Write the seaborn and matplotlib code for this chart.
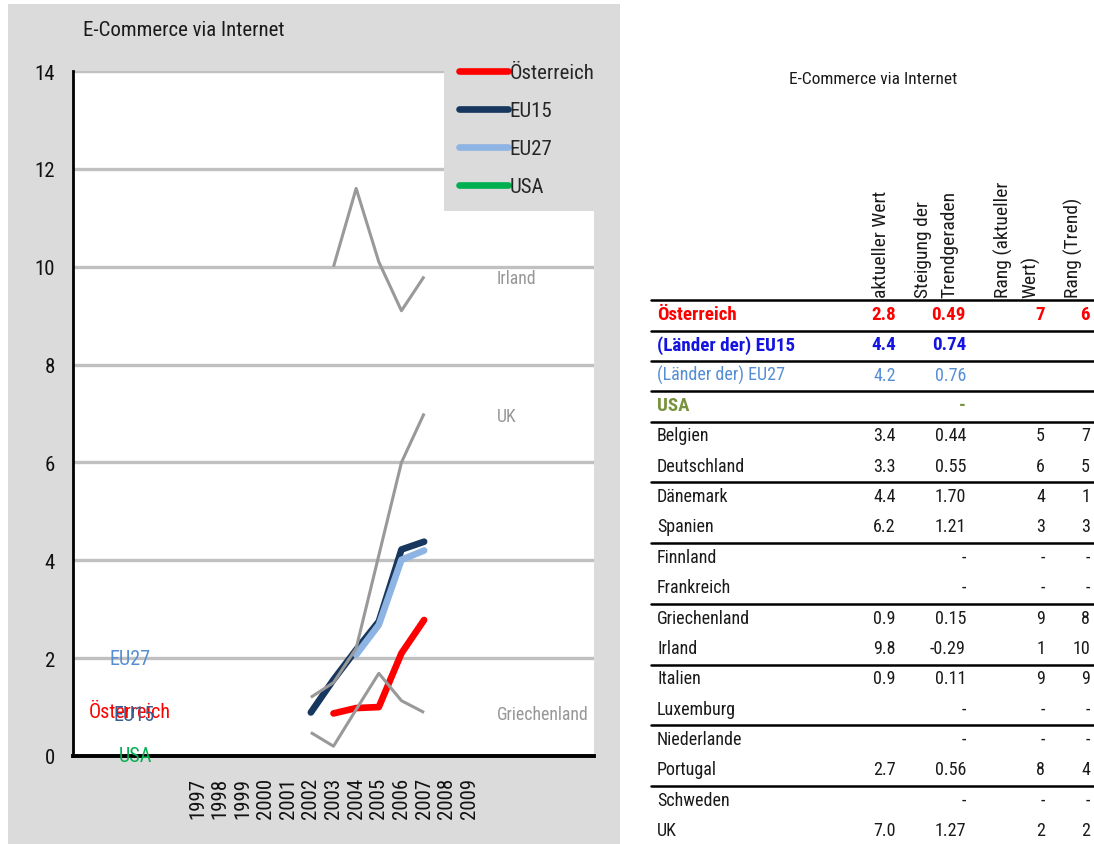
import numpy as np
import pandas as pd
import matplotlib
matplotlib.use("Agg")
import matplotlib.pyplot as plt
import seaborn as sns
from matplotlib.lines import Line2D
from matplotlib.patches import Rectangle

# ---------------- data ----------------
# Excel-style category axis: empty slots around the years
categories = [""] * 5 + [str(y) for y in range(1997, 2010)] + [""] * 5

years = [2002, 2003, 2004, 2005, 2006, 2007]
oesterreich = [np.nan, 0.87, 0.98, 1.00, 2.10, 2.78]
eu15 = [0.89, 1.56, 2.17, 2.75, 4.22, 4.38]
eu27 = [np.nan, np.nan, 2.07, 2.68, 4.01, 4.20]
usa = [np.nan] * 6
irland = [np.nan, 10.0, 11.6, 10.1, 9.1, 9.8]
uk = [1.2, 1.5, 2.2, 4.1, 6.0, 7.0]
griechenland = [0.48, 0.20, 0.95, 1.69, 1.13, 0.89]

main_series = ["Österreich", "EU15", "EU27", "USA"]
main_colors = ["#FF0000", "#17375E", "#8EB4E3", "#00B050"]
label_colors = ["#FF0000", "#3A5F8F", "#558ED5", "#00B050"]
label_values = [0.9, 0.85, 2.0, 0.0]   # series-name labels on the left

country_series = ["Irland", "UK", "Griechenland"]
country_label_values = [9.8, 7.0, 0.9]

# table on the right
tab_names = ["Österreich", "(Länder der) EU15", "(Länder der) EU27", "USA",
             "Belgien", "Deutschland", "Dänemark", "Spanien", "Finnland",
             "Frankreich", "Griechenland", "Irland", "Italien", "Luxemburg",
             "Niederlande", "Portugal", "Schweden", "UK"]
tab_wert = ["2.8", "4.4", "4.2", "", "3.4", "3.3", "4.4", "6.2", "", "",
            "0.9", "9.8", "0.9", "", "", "2.7", "", "7.0"]
tab_steigung = ["0.49", "0.74", "0.76", "-", "0.44", "0.55", "1.70", "1.21",
                "-", "-", "0.15", "-0.29", "0.11", "-", "-", "0.56", "-", "1.27"]
tab_rang_wert = ["7", "", "", "", "5", "6", "4", "3", "-", "-", "9", "1", "9",
                 "-", "-", "8", "-", "2"]
tab_rang_trend = ["6", "", "", "", "7", "5", "1", "3", "-", "-", "8", "10",
                  "9", "-", "-", "4", "-", "2"]
tab_headers = ["aktueller Wert", "Steigung der\nTrendgeraden",
               "Rang (aktueller\nWert)", "Rang (Trend)"]
tab_colors = ["#FF0000", "#1414E0", "#558ED5", "#77933C"] + ["#1A1A1A"] * 14
tab_bold = [True, True, False, True] + [False] * 14
tab_lines_after = [-1, 0, 1, 2, 3, 5, 7, 9, 11, 13, 15]

# ---------------- style ----------------
sns.set_theme(style="white")
plt.rcParams["font.family"] = ["Roboto Condensed", "DejaVu Sans"]

W, H = 1094, 845
fig = plt.figure(figsize=(W / 100, H / 100), dpi=100, facecolor="white")


def fx(px):
    return px / W


def fy(py):
    return 1 - py / H


# grey panel behind the chart
fig.add_artist(Rectangle((fx(8), 0), fx(612), 1 - 5 / H, transform=fig.transFigure,
                         facecolor="#DBDBDB", edgecolor="none", zorder=0))

ax = fig.add_axes([fx(73), fy(757), fx(594 - 73), (757 - 72) / H])
ax.set_facecolor("white")

pos = [categories.index(str(y)) for y in years]
df_main = pd.DataFrame({"pos": pos * 4,
                        "value": oesterreich + eu15 + eu27 + usa,
                        "series": np.repeat(main_series, len(years))})
df_cty = pd.DataFrame({"pos": pos * 3,
                       "value": irland + uk + griechenland,
                       "series": np.repeat(country_series, len(years))})

for s, c in zip(main_series, main_colors):
    d = df_main[df_main["series"] == s].dropna()
    if len(d):
        sns.lineplot(data=d, x="pos", y="value", color=c, lw=4.8, ax=ax,
                     solid_capstyle="round", solid_joinstyle="round", zorder=3)
sns.lineplot(data=df_cty.dropna(), x="pos", y="value", hue="series",
             palette=["#999999"] * 3, lw=2.2, ax=ax, legend=False, zorder=4,
             solid_capstyle="butt")

ax.set_xlim(-0.5, len(categories) - 0.5)
ax.set_ylim(0, 14)
ax.set_yticks(range(0, 15, 2))
ax.set_xticks(range(len(categories)))
ax.set_xticklabels(categories, rotation=90, fontsize=15)
ax.set_xticks(np.arange(-0.5, len(categories)), minor=True)
ax.tick_params(axis="x", which="major", length=0, pad=15, colors="#111111")
ax.tick_params(axis="x", which="minor", length=5, width=2, color="black", direction="out")
ax.tick_params(axis="y", length=5, width=2, color="black", direction="out",
               labelsize=15, pad=8, labelcolor="#111111")
ax.set_xlabel("")
ax.set_ylabel("")
ax.yaxis.grid(True, color="#C0C0C0", lw=2.4)
ax.set_axisbelow(True)
for side in ["top", "right"]:
    ax.spines[side].set_visible(False)
ax.spines["left"].set_color("black")
ax.spines["left"].set_linewidth(2)
ax.spines["bottom"].set_color("black")
ax.spines["bottom"].set_linewidth(2.8)
ax.spines["bottom"].set_zorder(5)

# series-name labels at the left (they overlap, as in the source chart)
for s, c, v, dx in zip(main_series, label_colors, label_values, [0, 0.2, 0, 0.25]):
    ax.text(2 + dx, v, s, color=c, fontsize=14.5, ha="center", va="center",
            zorder=6, clip_on=False)

# country labels on the right
for s, v in zip(country_series, country_label_values):
    ax.text(18.2, v, s, color="#969696", fontsize=12.8, ha="left",
            va="center_baseline")

handles = [Line2D([0], [0], color=c, lw=4.8, solid_capstyle="round") for c in main_colors]
leg = ax.legend(handles, main_series, loc="upper right", bbox_to_anchor=(1.029, 1.033),
                borderaxespad=0, frameon=True, facecolor="#DBDBDB", edgecolor="none",
                framealpha=1, fontsize=15, handlelength=2.35, handletextpad=0.1,
                labelspacing=0.92, borderpad=0.7, fancybox=False)
leg.set_zorder(10)

fig.text(fx(83), fy(30), "E-Commerce via Internet", fontsize=15, va="center",
         color="#1A1A1A")

# ---------------- table ----------------
fig.text(fx(873), fy(80), "E-Commerce via Internet", fontsize=12.5, ha="center",
         va="center", color="#1A1A1A")

row0, row_h = 315, 30.35
col_right = [896, 966, 1045, 1090]
head_x = [881, 936, 1017, 1073]
for hx, h in zip(head_x, tab_headers):
    fig.text(fx(hx), fy(298), h, rotation=90, fontsize=14, ha="center", va="bottom",
             multialignment="left", color="#1A1A1A", linespacing=1.6)

for i, name in enumerate(tab_names):
    y = fy(row0 + i * row_h)
    w = "bold" if tab_bold[i] else "normal"
    fs = 13.7 if tab_bold[i] else 13
    c = tab_colors[i]
    fig.text(fx(657), y, name, fontsize=fs, color=c, weight=w, va="center")
    for col, vals in zip(col_right, [tab_wert, tab_steigung, tab_rang_wert, tab_rang_trend]):
        fig.text(fx(col), y, vals[i], fontsize=fs, color=c, weight=w,
                 va="center", ha="right")

for r in tab_lines_after:
    y = fy(row0 + (r + 0.5) * row_h + 1.5)
    fig.add_artist(Line2D([fx(651), 1], [y, y], transform=fig.transFigure,
                          color="black", lw=1.8))

fig.savefig("out.png", dpi=100, facecolor="white")
